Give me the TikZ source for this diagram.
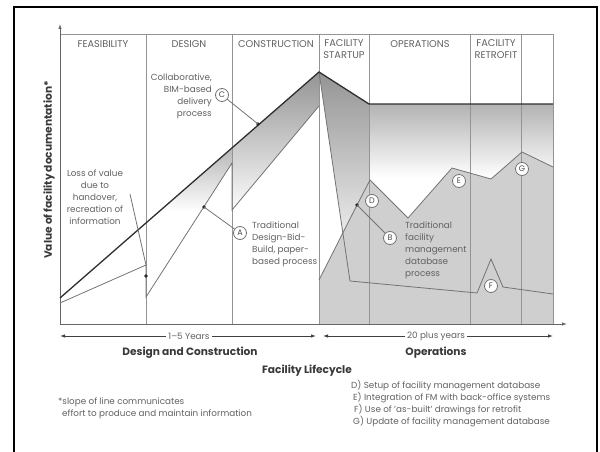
\documentclass[tikz,border=0pt]{standalone}
\usepackage{fontspec}
\setmainfont{Poppins}
\usetikzlibrary{arrows.meta}
\tikzset{
	phase/.style={font=\fontsize{9.8}{12}\selectfont, text=black!62, align=center, inner sep=0pt},
	note/.style={font=\fontsize{8.8}{12}\selectfont, text=black!62, inner sep=0pt},
	heading/.style={font=\fontsize{10.6}{12}\selectfont\bfseries, text=black!78, inner sep=0pt},
	marker/.style={circle, draw=black!55, line width=0.8pt, fill=white, inner sep=0pt, minimum size=13pt, font=\fontsize{8}{8}\selectfont, text=black!70},
	grid/.style={line width=0.8pt, color=black!42},
	trad/.style={line width=0.8pt, color=black!55},
	bim/.style={line width=1.3pt, color=black!82},
	tip/.style={-{Latex[length=5pt,width=3.5pt]}},
}

\begin{document}
\begin{tikzpicture}[x=1pt, y=-1pt]
		%%%%% START %%%%%
		\useasboundingbox (0,0) rectangle (600,452);
		\draw[line width=2pt] (14,470) -- (14,7) -- (597,7) -- (597,470);
		
		% shaded loss of value
		\begin{scope}
			\clip (146,223) -- (232,148) -- (232,163) -- (146,297) -- cycle;
			\shade[top color=black!28, bottom color=white] (146,148) rectangle (232,212);
		\end{scope}
		\begin{scope}
			\clip (232,148) -- (319,72) -- (319,106) -- (232,210) -- cycle;
			\shade[top color=black!42, bottom color=white] (232,72) rectangle (319,215);
		\end{scope}
		\begin{scope}
			\clip (319,72) -- (369,104) -- (369,324) -- (350,324) -- (350,281) -- cycle;
			\shade[top color=black!42, bottom color=white] (319,72) rectangle (369,272);
		\end{scope}
		\begin{scope}
			\clip (369,104) rectangle (553,324);
			\shade[top color=black!30, bottom color=white] (369,104) rectangle (553,178);
		\end{scope}
		\fill[black!19] (319,324) -- (319,280) -- (357,205) -- (370,180) -- (408,218) -- (452,168) -- (491,179) -- (522,152) -- (553,167) -- (553,324) -- cycle;
		
		% phases
		\foreach \x in {146,232,319,369,470,521}
			\draw[grid] (\x,34) -- (\x,324);
		\draw[grid] (60,34) -- (553,34) -- (553,324);
		\draw[grid, color=black!60, tip] (60,324) -- (60,24);
		\draw[grid, color=black!60, tip] (60,324) -- (567,324);
		
		\node[phase] (feas) at (103,44) {FEASIBILITY};
		\node[phase] (design) at (189,44) {DESIGN};
		\node[phase] (constr) at (276,44) {CONSTRUCTION};
		\node[phase] (startup) at (344,49) {FACILITY\\STARTUP};
		\node[phase] (ops) at (420,44) {OPERATIONS};
		\node[phase] (retro) at (496,49) {FACILITY\\RETROFIT};
		
		% value lines
		\draw[trad] (60,303) -- (146,265) -- (146,297) -- (232,163) -- (232,210) -- (319,106);
		\draw[trad] (319,72) -- (350,281) -- (477,293) -- (491,259) -- (503,287) -- (553,294);
		\draw[trad] (319,280) -- (357,205) -- (370,180) -- (408,218) -- (452,168) -- (491,179) -- (522,152) -- (553,167);
		\draw[bim] (60,298) -- (319,72) -- (369,104) -- (553,104);
		
		\coordinate (dotC) at (258,124);
		\coordinate (dotA) at (204,207);
		\coordinate (dotB) at (357,205);
		\coordinate (dotLoss) at (146,276);
		\coordinate (handover) at (146,265);
		\coordinate (lossTail) at (130,194);
		\foreach \d in {dotC,dotA,dotB,dotLoss}
			\fill[black!85] (\d) circle (1.8);
		
		% callouts
		\node[marker] (mC) at (222,95) {C};
		\node[marker] (mA) at (240,233) {A};
		\node[marker] (mB) at (390,238) {B};
		\node[marker] (mD) at (372,201) {D};
		\node[marker] (mE) at (459,181) {E};
		\node[marker] (mF) at (491,286) {F};
		\node[marker] (mG) at (522,169) {G};
		\draw[trad] (mC) -- (dotC);
		\draw[trad] (mA) -- (dotA);
		\draw[trad] (mB) -- (dotB);
		\draw[trad] (lossTail) -- (handover);
		
		\node[note, align=right, anchor=east] (collab) at (212,96) {Collaborative,\\BIM-based\\delivery\\process};
		\node[note, align=center] (loss) at (95,197) {Loss of value\\due to\\handover,\\recreation of\\information};
		\node[note, align=left, anchor=west] (tradA) at (252,244) {Traditional\\Design-Bid-\\Build, paper-\\based process};
		\node[note, align=left, anchor=west] (tradB) at (405,250) {Traditional\\facility\\management\\database\\process};
		
		\node[heading, rotate=90] (ylab) at (49,170) {Value of facility documentation*};
		
		% time spans
		\node[note, fill=white, inner sep=2pt] (yrs1) at (189,336) {1--5 Years};
		\node[note, fill=white, inner sep=2pt] (yrs2) at (436,336) {20 plus years};
		\coordinate (s1L) at (60,336);
		\coordinate (s1R) at (316,336);
		\coordinate (s2L) at (323,336);
		\coordinate (s2R) at (553,336);
		\draw[trad, color=black!75, tip] (yrs1) -- (s1L);
		\draw[trad, color=black!75, tip] (yrs1) -- (s1R);
		\draw[trad, color=black!75, tip] (yrs2) -- (s2L);
		\draw[trad, color=black!75, tip] (yrs2) -- (s2R);
		
		\node[heading] (dc) at (190,353) {Design and Construction};
		\node[heading] (opsh) at (436,353) {Operations};
		\node[heading] (life) at (307,371) {Facility Lifecycle};
		
		\node[note, align=left, anchor=west] (foot) at (58,408) {*slope of line communicates\\\hspace*{4pt}effort to produce and maintain information};
		\node[note, align=left, anchor=west] (legend) at (351,404) {D) Setup of facility management database\\\hspace*{2pt}E) Integration of FM with back-office systems\\\hspace*{3pt}F) Use of 'as-built' drawings for retrofit\\\hspace*{2pt}G) Update of facility management database};
		%%%%% END %%%%%
	\end{tikzpicture}
\end{document}
